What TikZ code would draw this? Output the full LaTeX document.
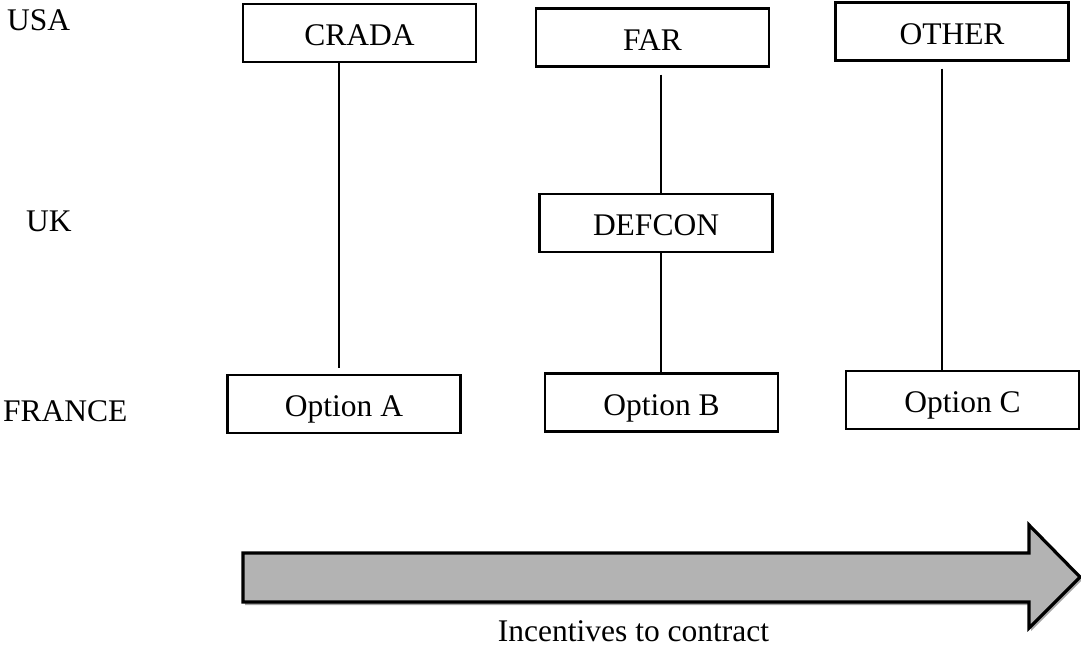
\documentclass[tikz,border=0pt]{standalone}
\usepackage{fontspec}
\setmainfont{Liberation Serif}
\usetikzlibrary{shadows}
\definecolor{arrowgray}{HTML}{B3B3B3}
\tikzset{
  box/.style={draw=black, line width=2.2pt, inner sep=0pt, minimum width=233pt,
    minimum height=58pt, text height=25pt, text depth=0pt, align=center},
  rowlabel/.style={anchor=base west, inner sep=0pt},
  link/.style={draw=black, line width=2.4pt},
  bigarrow/.style={draw=black, fill=arrowgray, line width=3.2pt, line join=miter,
    drop shadow={shadow xshift=2pt, shadow yshift=-3pt, opacity=0.35, fill=black}},
}
\begin{document}
\begin{tikzpicture}[x=1pt, y=-1pt, font=\fontsize{31.5}{38}\selectfont]
\useasboundingbox (0,0) rectangle (1081,646);
% row labels
\node[rowlabel] (usa) at (7,30) {USA};
\node[rowlabel] (uk) at (26,231) {UK};
\node[rowlabel] (france) at (3,421) {FRANCE};
% boxes
\node[box] (crada) at (359.5,33) {CRADA};
\node[box] (far) at (652.5,37.5) {FAR};
\node[box] (other) at (952,31.5) {OTHER};
\node[box] (defcon) at (656,223) {DEFCON};
\node[box] (optA) at (344,404) {Option A};
\node[box] (optB) at (661.5,402.5) {Option B};
\node[box] (optC) at (962.5,400) {Option C};
% connectors
\draw[link] ([xshift=-20.5pt]crada.south) -- ([xshift=-5pt,yshift=6pt]optA.north);
\draw[link] ([xshift=8.5pt,yshift=-7pt]far.south) -- ([xshift=5pt]defcon.north);
\draw[link] ([xshift=5pt]defcon.south) -- ([xshift=-0.5pt]optB.north);
\draw[link] ([xshift=-10pt,yshift=-7pt]other.south) -- ([xshift=-20.5pt]optC.north);
% big arrow
\path[bigarrow] (243,553) -- (1029,553) -- (1029,525) -- (1080,577) -- (1029,628)
  -- (1029,602) -- (243,602) -- cycle;
\node[anchor=base, inner sep=0pt] (incent) at (633.5,641) {Incentives to contract};
\end{tikzpicture}
\end{document}
